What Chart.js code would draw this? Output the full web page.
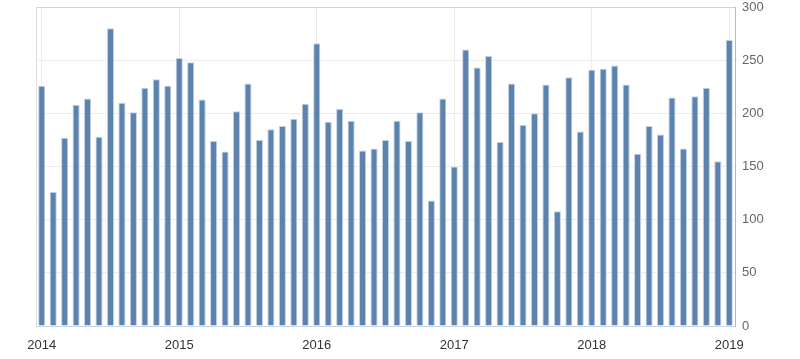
<!DOCTYPE html>
<html>
<head>
<meta charset="utf-8">
<script src="https://cdn.jsdelivr.net/npm/chart.js@4/dist/chart.umd.min.js"></script>
<style>
  html, body { margin: 0; padding: 0; background: #fff; }
  #wrap { width: 800px; height: 359px; }
</style>
</head>
<body>
<div id="wrap"><canvas id="myChart"></canvas></div>
<script>
// monthly values, Jan 2014 .. Jan 2019
const years = ['2014', '2015', '2016', '2017', '2018', '2019'];
const values2014 = [226, 126, 177, 208, 214, 178, 280, 210, 201, 224, 232, 226];
const values2015 = [252, 248, 213, 174, 164, 202, 228, 175, 185, 188, 195, 209];
const values2016 = [266, 192, 204, 193, 165, 167, 175, 193, 174, 201, 118, 214];
const values2017 = [150, 260, 243, 254, 173, 228, 189, 200, 227, 108, 234, 183];
const values2018 = [241, 242, 245, 227, 162, 188, 180, 215, 167, 216, 224, 155];
const values2019 = [269];
const yTicks = [0, 50, 100, 150, 200, 250, 300];

const values = [].concat(values2014, values2015, values2016, values2017, values2018, values2019);
const labels = [];
years.forEach(y => {
    const n = y === '2019' ? 1 : 12;
    for (let m = 0; m < n; m++) labels.push(m === 0 ? y : '');
});

document.addEventListener('DOMContentLoaded', () => {
    Chart.defaults.font.family = "'Liberation Sans', Arial, sans-serif";
    Chart.defaults.font.size = 13;

    let ctx = document.getElementById('myChart').getContext('2d');
    let myChart = new Chart(ctx, {
        type: 'bar',
        data: {
            labels: labels,
            datasets: [{
                data: values,
                backgroundColor: '#5b83ae',
                borderColor: '#c4d1e1',
                borderWidth: 1,
                barPercentage: 0.62,
                categoryPercentage: 1,
                yAxisID: 'y'
            }]
        },
        options: {
            responsive: true,
            maintainAspectRatio: false,
            animation: false,
            layout: { padding: { left: 36, top: 7, right: 0, bottom: 0 } },
            plugins: { legend: { display: false }, tooltip: { enabled: false } },
            scales: {
                x: {
                    offset: true,
                    grid: {
                        offset: false,
                        drawTicks: false,
                        color: c => (labels[c.index] ? '#ececec' : 'rgba(0,0,0,0)')
                    },
                    border: { color: '#ccd6eb', width: 1 },
                    ticks: {
                        autoSkip: false,
                        maxRotation: 0,
                        padding: 12,
                        color: '#333333',
                        callback: (v, i) => labels[i]
                    },
                    afterFit: s => { s.height = 33; s.paddingLeft = 0; s.paddingRight = 0; }
                },
                y: {
                    position: 'right',
                    min: 0,
                    max: 300,
                    afterBuildTicks: s => { s.ticks = yTicks.map(v => ({ value: v })); },
                    grid: {
                        drawTicks: false,
                        color: c => (c.tick && c.tick.value === 300 ? '#d4d4d4' : '#ececec')
                    },
                    border: { color: '#b8b8b8', width: 1 },
                    ticks: { padding: 7, color: '#666666' },
                    afterFit: s => { s.width = 65; s.paddingTop = 0; s.paddingBottom = 0; }
                },
                yLeft: {
                    position: 'left',
                    min: 0,
                    max: 300,
                    grid: { display: false },
                    border: { color: '#dddddd', width: 1 },
                    ticks: { display: false },
                    afterFit: s => { s.width = 0; s.paddingTop = 0; s.paddingBottom = 0; }
                }
            }
        }
    });
});
</script>
</body>
</html>
